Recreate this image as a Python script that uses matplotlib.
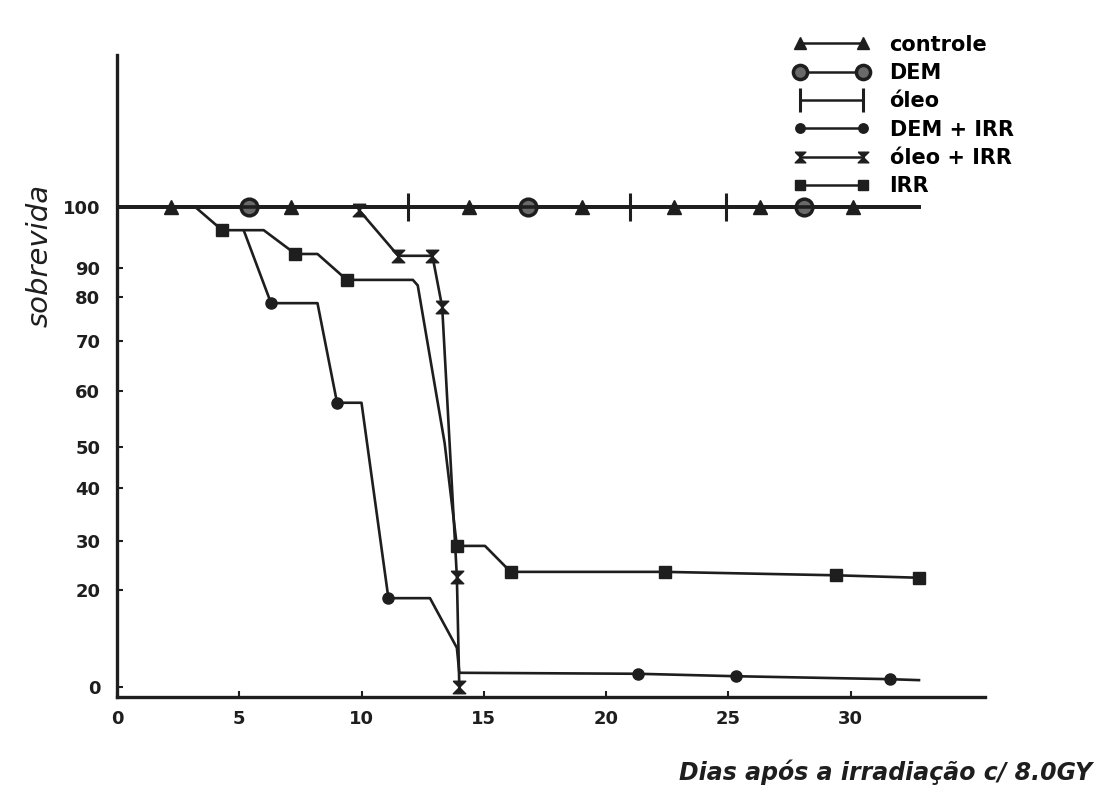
import numpy as np
import matplotlib
matplotlib.use("Agg")
import matplotlib.pyplot as plt

# Survival (%) versus days after irradiation
dias_controle = [0.1, 2.2, 7.1, 14.4, 19.0, 22.8, 26.3, 30.1, 32.8]
sobrev_controle = [100, 100, 100, 100, 100, 100, 100, 100, 100]

dias_dem = [0.1, 5.4, 16.8, 28.1, 32.8]
sobrev_dem = [100, 100, 100, 100, 100]

dias_oleo = [0.1, 11.9, 21.0, 24.9, 32.8]
sobrev_oleo = [100, 100, 100, 100, 100]

dias_dem_irr = [5.2, 6.3, 8.2, 9.0, 10.0, 11.1, 12.8, 13.9, 14.0, 21.3, 25.3, 31.6, 32.8]
sobrev_dem_irr = [96, 78.6, 78.6, 57.9, 57.9, 18.3, 18.3, 8, 2.9, 2.7, 2.2, 1.6, 1.4]

dias_oleo_irr = [9.9, 11.5, 12.9, 13.3, 13.9, 14.0]
sobrev_oleo_irr = [99.5, 92, 92, 77.7, 22.7, 0]

dias_irr = [3.2, 4.3, 6.0, 7.3, 8.2, 9.4, 12.1, 12.3, 13.4, 13.9, 15.05, 16.1, 22.4, 29.4, 32.8]
sobrev_irr = [100, 96.2, 96.2, 92.3, 92.3, 85.9, 85.9, 84, 50.7, 29, 29, 23.7, 23.7, 23.0, 22.5]

y_ticks = [100, 90, 80, 70, 60, 50, 40, 30, 20, 0]
x_ticks = [0, 5, 10, 15, 20, 25, 30]

# the hand-drawn y axis is not evenly spaced: piecewise linear scale
escala_val = [-50, 0, 10, 20, 30, 40, 50, 60, 70, 80, 90, 100, 200]
escala_pos = [-250, 0, 49, 97, 146, 199, 240, 296, 346, 390, 419, 480, 980]


def forward(v):
    return np.interp(v, escala_val, escala_pos)


def inverse(h):
    return np.interp(h, escala_pos, escala_val)


ink = "#1e1e1e"
fig = plt.figure(figsize=(10.96, 7.90), dpi=100)
ax = fig.add_axes([117 / 1096, 1 - 697 / 790, 868 / 1096, 642 / 790])
ax.set_yscale("function", functions=(forward, inverse))

hourglass = [(-1, 1), (1, 1), (-1, -1), (1, -1), (-1, 1)]

ax.plot(dias_controle, sobrev_controle, color=ink, lw=2.6, marker="^", ms=10,
        markevery=slice(1, -1), label="controle")
ax.plot(dias_dem, sobrev_dem, color=ink, lw=2.6, marker="o", ms=12, mfc="#6a6a6a",
        mew=2.5, markevery=slice(1, -1), label="DEM")
ax.plot(dias_oleo, sobrev_oleo, color=ink, lw=2.6, marker="|", ms=20, mew=2.2,
        markevery=slice(1, -1), label="óleo")
ax.plot(dias_dem_irr, sobrev_dem_irr, color=ink, lw=1.9, marker="o", ms=8,
        markevery=[1, 3, 5, 9, 10, 11], label="DEM + IRR")
ax.plot(dias_oleo_irr, sobrev_oleo_irr, color=ink, lw=1.9, marker=hourglass, ms=9,
        label="óleo + IRR")
ax.plot(dias_irr, sobrev_irr, color=ink, lw=1.9, marker="s", ms=9,
        markevery=[1, 3, 5, 9, 11, 12, 13, 14], label="IRR")

ax.set_xlim(0, 35.5)
ax.set_ylim(-2, 130.4)
ax.set_xticks(x_ticks)
ax.set_yticks(y_ticks)
ax.set_yticks([], minor=True)
ax.set_yticklabels([str(t) for t in y_ticks])
ax.tick_params(axis="both", direction="in", length=4, width=1.5, colors=ink,
               labelsize=13)
ax.tick_params(axis="x", pad=9)
ax.tick_params(axis="y", pad=12)
for lab in ax.get_xticklabels() + ax.get_yticklabels():
    lab.set_fontweight("bold")

for side in ["top", "right"]:
    ax.spines[side].set_visible(False)
for side in ["left", "bottom"]:
    ax.spines[side].set_linewidth(2.4)
    ax.spines[side].set_color(ink)

leg = ax.legend(loc="upper left", bbox_to_anchor=(775 / 1096, 1 - 16 / 790),
                bbox_transform=fig.transFigure, frameon=False, numpoints=2,
                handlelength=3.6, labelspacing=0.4, handletextpad=1.0,
                markerscale=0.85, prop={"weight": "bold", "size": 15})
for line in leg.get_lines():
    line.set_linewidth(1.8)

fig.text(40 / 1096, 1 - 255 / 790, "sobrevida", rotation=90, ha="center",
         va="center", fontsize=21, style="italic", color=ink)
fig.text(1092 / 1096, 1 - 772 / 790, "Dias após a irradiação c/ 8.0GY",
         ha="right", va="center", fontsize=17, style="italic", fontweight="bold",
         color=ink)

fig.savefig("out.png", dpi=100)
